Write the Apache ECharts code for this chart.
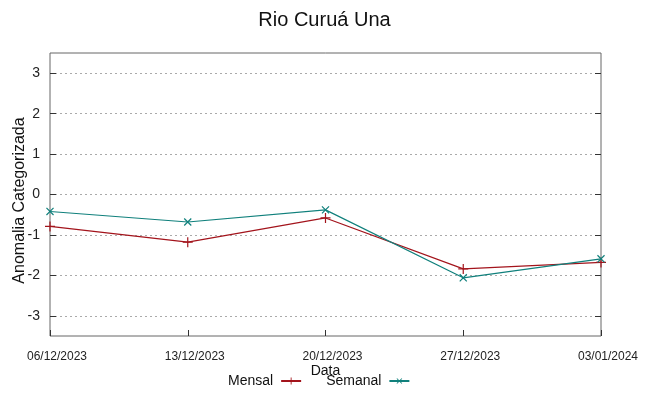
<!DOCTYPE html>
<html><head><meta charset="utf-8">
<script src="https://cdn.jsdelivr.net/npm/echarts@6/dist/echarts.min.js"></script>
<style>html,body{margin:0;padding:0;background:#fff}#c{width:649px;height:396px}</style>
</head><body><div id="c"></div>
<script>
const dates = ['06/12/2023','13/12/2023','20/12/2023','27/12/2023','03/01/2024'];
const mensal = [-0.79, -1.18, -0.58, -1.84, -1.68];
const semanal = [-0.42, -0.68, -0.38, -2.06, -1.59];
const yTicks = [-3, -2, -1, 0, 1, 2, 3];

const FONT = 'Liberation Sans, Arial, sans-serif';
const RED = '#a3141c';
const TEAL = '#10807c';
const plus = 'path://M4.4,0h1.2v10h-1.2z M0,4.4h10v1.2h-10z';

const chart = echarts.init(document.getElementById('c'), null, {renderer: 'canvas'});
const yBase = {
  type: 'value', min: -3.5, max: 3.5,
  axisLine: {show: false, onZero: false},
  axisTick: {show: true, inside: true, length: 6, customValues: yTicks, lineStyle: {color: '#333', width: 1}},
  axisLabel: {customValues: yTicks, color: '#222', fontFamily: FONT, fontSize: 14, margin: 10},
  splitLine: {show: false}
};
chart.setOption({
  animation: false,
  backgroundColor: '#fff',
  title: {text: 'Rio Curuá Una', left: 'center', top: 5,
    textStyle: {fontFamily: FONT, fontSize: 20, fontWeight: 'normal', color: '#111'}},
  grid: {left: 50, right: 48, top: 53, bottom: 60, show: true, borderColor: '#666', borderWidth: 1,
    backgroundColor: 'transparent', containLabel: false, outerBoundsMode: 'none'},
  legend: {
    top: 374, left: 228, align: 'right', itemWidth: 20, itemHeight: 9, itemGap: 24, padding: 0,
    textStyle: {fontFamily: FONT, fontSize: 14, color: '#111', padding: [0, 3, 0, 0]},
    data: ['Mensal', 'Semanal']
  },
  xAxis: {
    type: 'category', data: dates, boundaryGap: false,
    name: 'Data', nameLocation: 'middle', nameGap: 28, nameMoveOverlap: false,
    nameTextStyle: {fontFamily: FONT, fontSize: 14, color: '#111'},
    axisLine: {show: false, onZero: false},
    axisTick: {show: true, inside: true, length: 6, lineStyle: {color: '#333'}},
    axisLabel: {color: '#222', fontFamily: FONT, fontSize: 12, margin: 15, interval: 0,
      padding: [0, 0, 0, 14]},
    splitLine: {show: false}
  },
  yAxis: [
    Object.assign({}, yBase, {
      position: 'left',
      name: 'Anomalia Categorizada', nameLocation: 'middle', nameGap: 22, nameRotate: 90,
      nameMoveOverlap: false,
      nameTextStyle: {fontFamily: FONT, fontSize: 16, color: '#111', padding: [0, 0, 0, -12]},
      splitLine: {show: true, lineStyle: {color: '#aaa', type: [2, 3], width: 1}}
    }),
    Object.assign({}, yBase, {position: 'right', axisLabel: {show: false}})
  ],
  series: [
    {name: 'Mensal', type: 'line', data: mensal, color: RED, symbol: plus, symbolSize: 10,
     showAllSymbol: true, lineStyle: {width: 1.2, color: RED}, itemStyle: {color: RED}},
    {name: 'Semanal', type: 'line', data: semanal, color: TEAL, symbol: plus, symbolRotate: 45, symbolSize: 10,
     showAllSymbol: true, lineStyle: {width: 1.2, color: TEAL}, itemStyle: {color: TEAL}}
  ]
});
</script></body></html>
